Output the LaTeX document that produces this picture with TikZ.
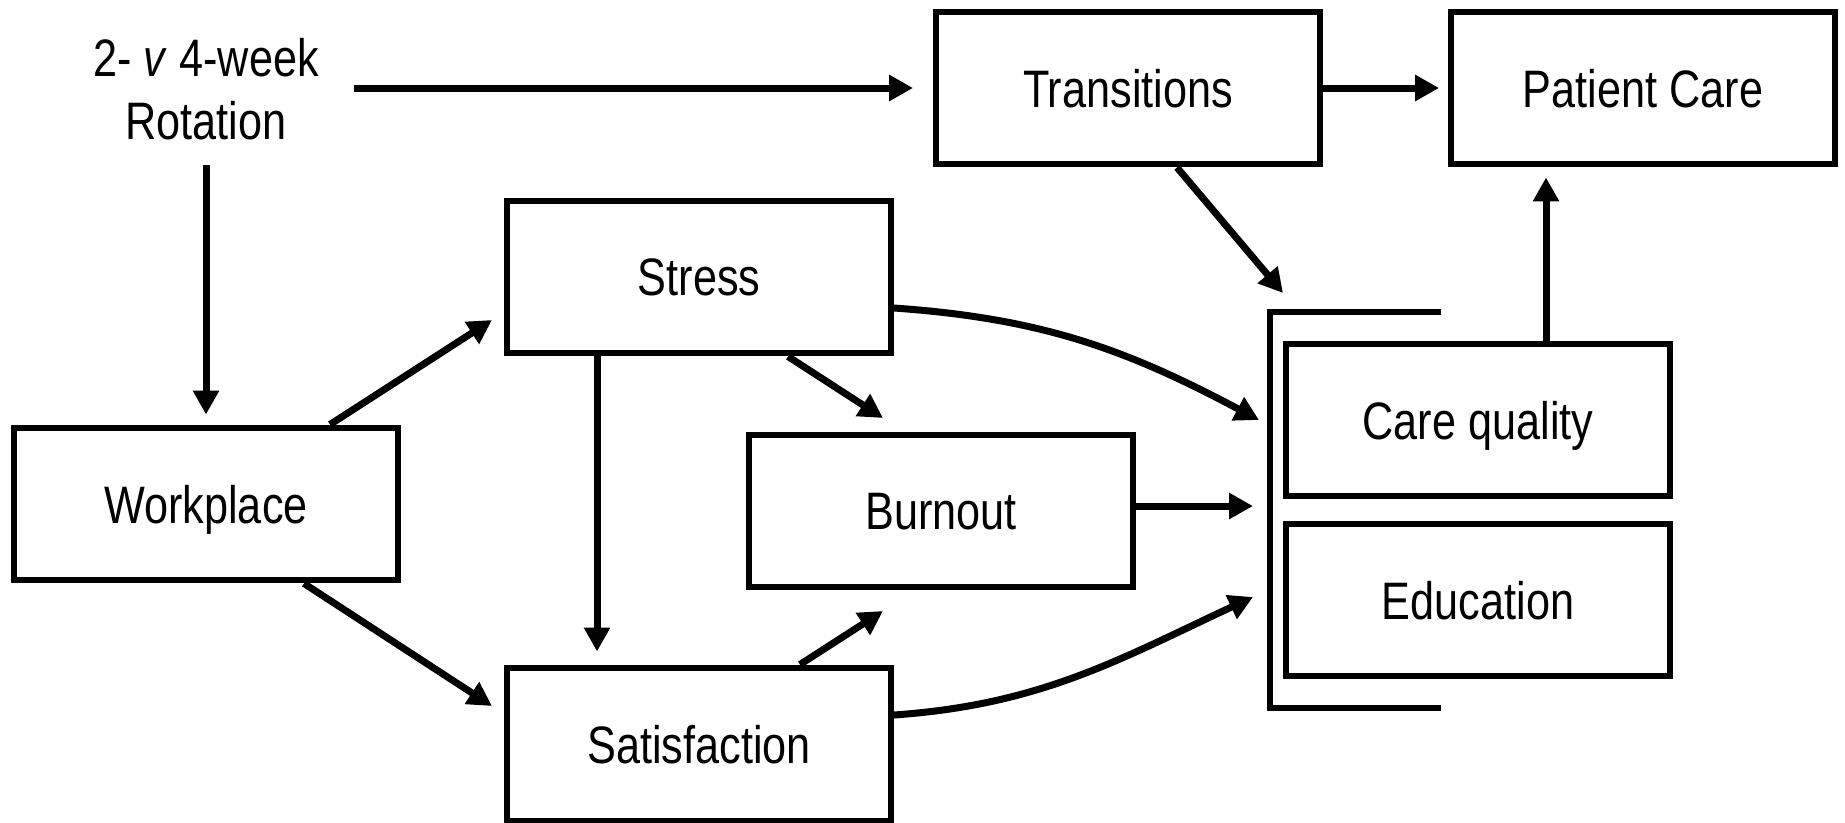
\documentclass[tikz,border=0pt]{standalone}
\usepackage{fontspec}
\setmainfont[FakeStretch=0.82]{Liberation Sans}
\usetikzlibrary{positioning, calc, arrows.meta}

\begin{document}
\begin{tikzpicture}[x=0.02cm, y=-0.02cm,
    txt/.style={font=\fontsize{30}{36}\selectfont},
    box/.style={txt, draw, line width=0.12cm, minimum width=7.68cm, minimum height=3.06cm, inner sep=0pt, text depth=0pt},
    arr/.style={-{Triangle[length=0.48cm, width=0.5cm]}, line width=0.14cm}]
    \useasboundingbox (0,0) rectangle (1845,822);

    % Boxes
    \node[box] (trans) at (1128,88) {Transitions};
    \node[box] (patient) at (1643,88) {Patient Care};
    \node[box] (stress) at (699,277) {Stress};
    \node[box] (work) at (206,504) {Workplace};
    \node[box] (burn) at (941,511) {Burnout};
    \node[box] (satis) at (699,744) {Satisfaction};
    \node[box] (care) at (1478,420) {Care quality};
    \node[box] (edu) at (1478,600) {Education};

    % Rotation label, no frame
    \node[txt, align=center, inner xsep=0.7cm, inner ysep=0.5cm] (rot) at (206,89) {2- \textit{v} 4-week\\Rotation};

    % Bracket round the outcomes
    \coordinate (brTop) at (1441,312);
    \coordinate (brBot) at (1441,708);
    \draw[line width=0.11cm] (brTop) -| (1270,708) -- (brBot);

    % Free arrow ends
    \coordinate (tipWS) at (492,320);
    \coordinate (tipWF) at (492,706);
    \coordinate (tipSB) at (883,418);
    \coordinate (tipFB) at (883,611);
    \coordinate (tipTr) at (1283,293);
    \coordinate (tipSt) at (1259,420);
    \coordinate (tipBu) at (1253,506);
    \coordinate (tipSa) at (1253,597);

    % Arrows
    \draw[arr, shorten >=0.4cm] (rot.east |- trans) -- (trans);
    \draw[arr, shorten >=0.18cm] (trans) -- (patient);
    \draw[arr, shorten >=0.2cm] (rot) -- (work);
    \draw[arr, shorten >=0.2cm] ($(care.north)+(68,0)$) -- ($(patient.south)+(-97,0)$);
    \draw[arr] ($(work.north)+(124,0)$) -- (tipWS);
    \draw[arr] ($(work.south)+(98,0)$) -- (tipWF);
    \draw[arr, shorten >=0.26cm] ($(stress.south)+(-102,0)$) -- ($(satis.north)+(-102,0)$);
    \draw[arr] ($(stress.south)+(89,0)$) -- (tipSB);
    \draw[arr] ($(satis.north)+(101,0)$) -- (tipFB);
    \draw[arr] (burn.east |- tipBu) -- (tipBu);
    \draw[arr] ($(trans.south)+(49,0)$) -- (tipTr);

    % Curved arrows into the bracket
    \draw[arr] ($(stress.east)+(0,31)$) to[out=-4, in=152] (tipSt);
    \draw[arr] ($(satis.east)+(0,-29)$) to[out=4, in=-155] (tipSa);

\end{tikzpicture}
\end{document}
